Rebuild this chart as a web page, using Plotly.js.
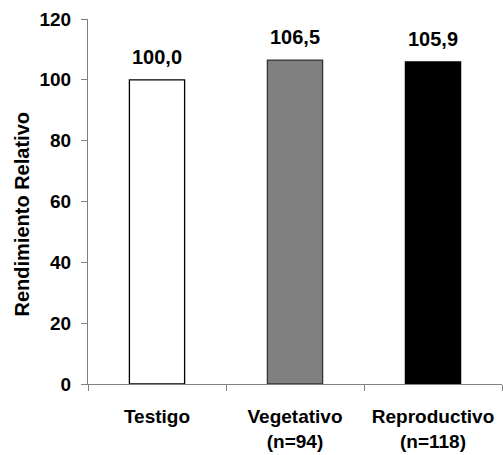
<!DOCTYPE html>
<html>
<head>
<meta charset="utf-8">
<script src="https://cdn.plot.ly/plotly-3.0.1.min.js"></script>
<style>html,body{margin:0;padding:0;background:#fff;}#chart{width:503px;height:455px;}</style>
</head>
<body>
<div id="chart"></div>
<script>
const categories = ["Testigo", "Vegetativo<br>(n=94)", "Reproductivo<br>(n=118)"];
const values = [100.0, 106.5, 105.9];
const valueLabels = ["100,0", "106,5", "105,9"];
const yTickValues = [0, 20, 40, 60, 80, 100, 120];
const barColors = ["#ffffff", "#808080", "#000000"];
const barLineColors = ["#000000", "#333333", "#000000"];
const yTitle = "Rendimiento Relativo";

const FONT = "Liberation Sans, Arial, sans-serif";

const trace = {
  type: "bar",
  x: categories,
  y: values,
  width: 0.4,
  marker: { color: barColors, line: { color: barLineColors, width: 1.3 } },
  hoverinfo: "none"
};

const annotations = values.map((v, i) => ({
  x: categories[i], y: v, xref: "x", yref: "y",
  text: valueLabels[i], showarrow: false,
  yanchor: "bottom", yshift: 10,
  font: { family: FONT, size: 20, color: "#000", weight: "bold" }
}));

annotations.push({
  xref: "paper", yref: "paper", x: 0, y: 0.5,
  xanchor: "center", yanchor: "middle",
  xshift: -67, yshift: -13,
  textangle: -90, showarrow: false,
  text: yTitle,
  font: { family: FONT, size: 20, color: "#000", weight: "bold" }
});

const layout = {
  width: 503, height: 455,
  margin: { l: 88, r: 1, t: 19, b: 71 },
  paper_bgcolor: "#fff", plot_bgcolor: "#fff",
  showlegend: false,
  font: { family: FONT, color: "#000" },
  xaxis: {
    type: "category",
    showline: true, linecolor: "#808080", linewidth: 1,
    ticks: "outside", tickson: "boundaries", ticklen: 6, tickcolor: "#808080",
    showgrid: false, zeroline: false,
    ticklabelstandoff: 15,
    tickfont: { family: FONT, size: 19, color: "#000", weight: "bold" }
  },
  yaxis: {
    range: [0, 120],
    tickvals: yTickValues,
    showline: true, linecolor: "#808080", linewidth: 1,
    ticks: "outside", ticklen: 6, tickcolor: "#808080",
    showgrid: false, zeroline: false,
    ticklabelstandoff: 6,
    tickfont: { family: FONT, size: 19, color: "#000", weight: "bold" }
  },
  annotations: annotations
};

Plotly.newPlot("chart", [trace], layout, { displayModeBar: false, staticPlot: true });
</script>
</body>
</html>
